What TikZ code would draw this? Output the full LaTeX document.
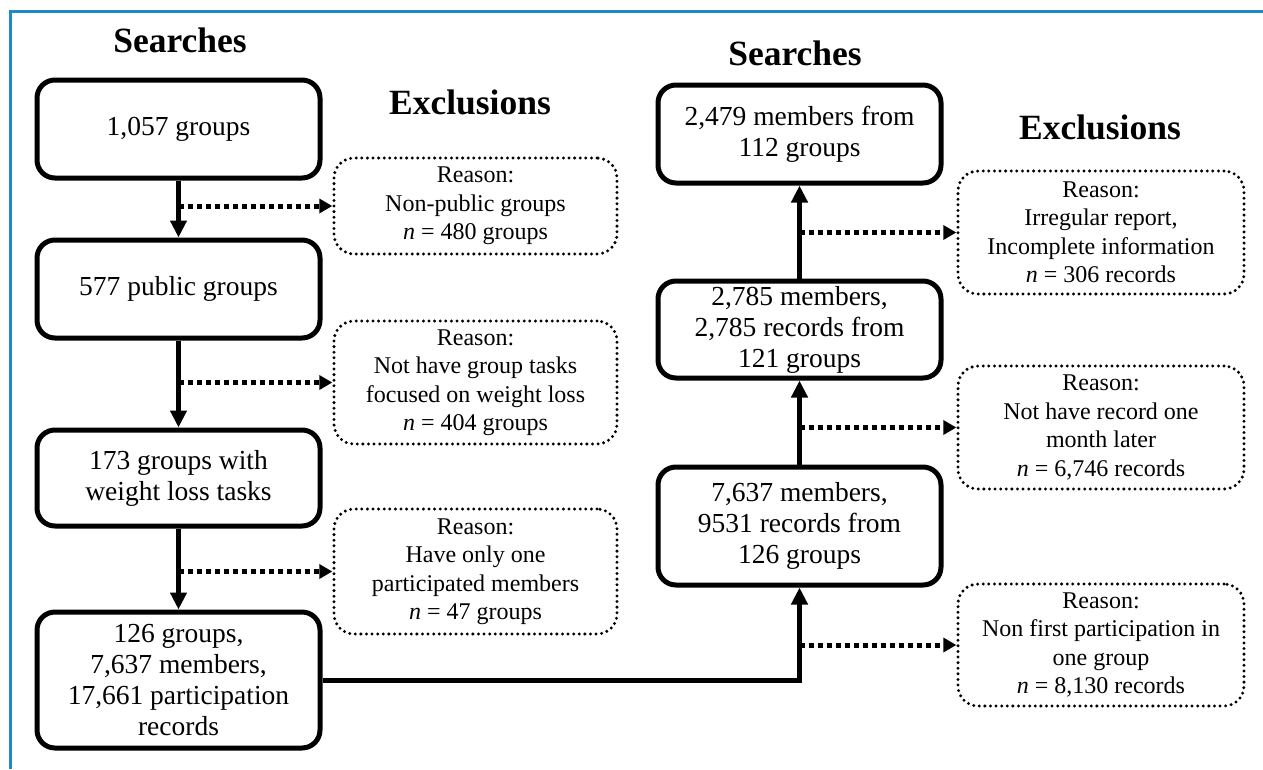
\documentclass[tikz,border=0pt]{standalone}
\usepackage{fontspec}
\setmainfont{Liberation Serif}
\usetikzlibrary{arrows.meta, positioning}
\definecolor{frameblue}{RGB}{33, 137, 199}

\begin{document}
\begin{tikzpicture}[x=1pt,y=-1pt,
    searchbox/.style={draw,line width=5pt,rounded corners=18pt,minimum width=283pt,
      inner sep=0pt,align=center,font=\fontsize{27.5}{31}\selectfont},
    reasonbox/.style={draw,line width=3.3pt,line cap=round,dash pattern=on 0pt off 5.6pt,
      rounded corners=20pt,minimum width=283pt,inner sep=0pt,align=center,
      font=\fontsize{24}{28.5}\selectfont},
    heading/.style={font=\fontsize{35.5}{40}\selectfont\bfseries},
    flowarrow/.style={line width=5pt,-{Triangle[length=17pt,width=16pt]}},
    exclarrow/.style={line width=5pt,dash pattern=on 5pt off 4pt,
      -{Triangle[length=13pt,width=14pt]}}]
        \useasboundingbox (0,0) rectangle (1263,769);
        \draw[frameblue,line width=3pt](1263,11)--(10,11)--(10,769);
        % left column
        \node[heading] (srchL) at (180,40){Searches};
        \node[searchbox,minimum height=98pt] (groups) at (178.5,129){1,057 groups};
        \node[searchbox,minimum height=98pt] (public) at (178.5,289){577 public groups};
        \node[searchbox,minimum height=96pt] (tasks) at (178.5,478){173 groups with\\weight loss tasks};
        \node[searchbox,minimum height=136pt] (part) at (178.5,680){126 groups,\\7,637 members,\\17,661 participation\\records};
        \node[heading] (exclL) at (470,102){Exclusions};
        \node[reasonbox,minimum height=96pt] (nonpub) at (475.5,206){Reason:\\Non-public groups\\\textit{n} = 480 groups};
        \node[reasonbox,minimum height=123pt] (notask) at (475.5,382.5){Reason:\\Not have group tasks\\focused on weight loss\\\textit{n} = 404 groups};
        \node[reasonbox,minimum height=125pt] (onemem) at (475.5,571.5){Reason:\\Have only one\\participated members\\\textit{n} = 47 groups};
        % right column
        \node[heading] (srchR) at (795,53){Searches};
        \node[searchbox,minimum height=98pt] (final) at (799.5,134){2,479 members from\\112 groups};
        \node[searchbox,minimum height=97pt] (month) at (799.5,329.5){2,785 members,\\2,785 records from\\121 groups};
        \node[searchbox,minimum height=118pt] (first) at (799.5,526){7,637 members,\\9531 records from\\126 groups};
        \node[heading] (exclR) at (1100,127){Exclusions};
        \node[reasonbox,minimum width=286pt,minimum height=123pt] (irreg) at (1101,232.5){Reason:\\Irregular report,\\Incomplete information\\\textit{n} = 306 records};
        \node[reasonbox,minimum width=286pt,minimum height=123pt] (nolater) at (1101,427.5){Reason:\\Not have record one\\month later\\\textit{n} = 6,746 records};
        \node[reasonbox,minimum width=286pt,minimum height=122pt] (nonfirst) at (1101,645){Reason:\\Non first participation in\\one group\\\textit{n} = 8,130 records};
        % connectors
        \draw[flowarrow](groups)--(public);
        \draw[flowarrow](public)--(tasks);
        \draw[flowarrow](tasks)--(part);
        \draw[flowarrow](part.east)-|(first.south);
        \draw[flowarrow](first)--(month);
        \draw[flowarrow](month)--(final);
        \draw[exclarrow](groups.south|-nonpub.west)--(nonpub.west);
        \draw[exclarrow](public.south|-notask.west)--(notask.west);
        \draw[exclarrow](tasks.south|-onemem.west)--(onemem.west);
        \draw[exclarrow](first.south|-nonfirst.west)--(nonfirst.west);
        \draw[exclarrow](month.north|-nolater.west)--(nolater.west);
        \draw[exclarrow](final.south|-irreg.west)--(irreg.west);
      \end{tikzpicture}
\end{document}
